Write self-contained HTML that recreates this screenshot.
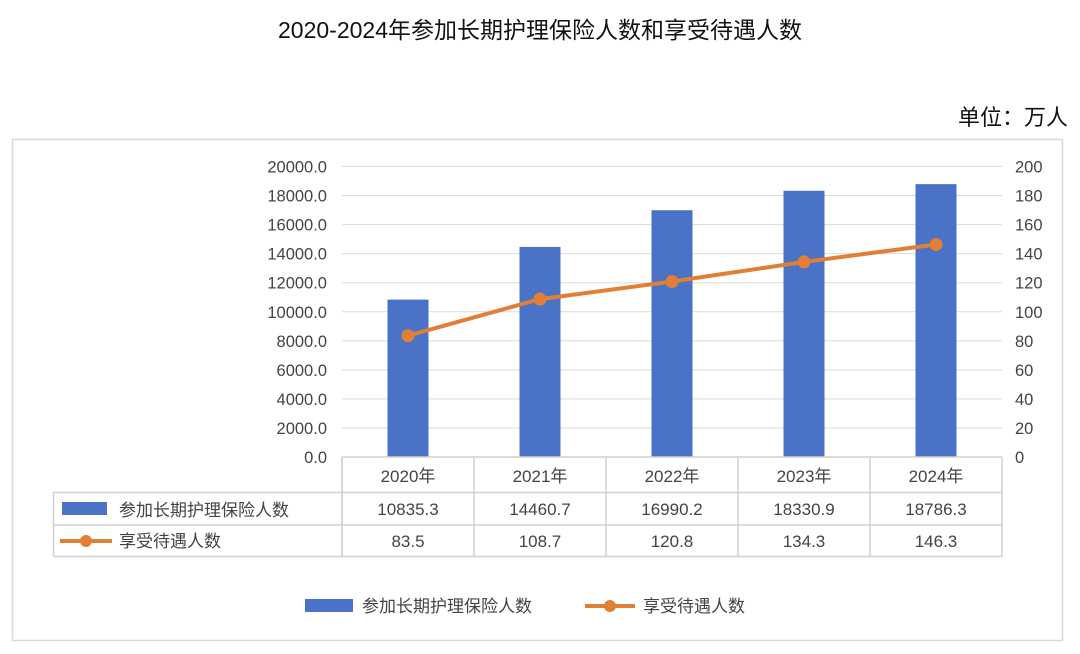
<!DOCTYPE html>
<html><head><meta charset="utf-8"><style>
body{margin:0;background:#fff;width:1080px;height:649px;overflow:hidden;font-family:"Liberation Sans","Noto Sans CJK SC",sans-serif}
</style></head><body>
<svg width="1080" height="649" xmlns="http://www.w3.org/2000/svg" font-family="Liberation Sans, Noto Sans CJK SC, sans-serif">
<text x="540" y="38" text-anchor="middle" font-size="23" fill="#111">2020-2024年参加长期护理保险人数和享受待遇人数</text>
<text x="1068" y="125" text-anchor="end" font-size="22" fill="#111">单位：万人</text>
<rect x="12.5" y="139.5" width="1050" height="501" fill="none" stroke="#d9d9d9" stroke-width="1.5"/>
<g id="grid"></g><g id="bars"></g><g id="line"></g><g id="axes"></g><g id="table"></g>
<g>
<rect x="305" y="599" width="48" height="13" fill="#4a72c6"/>
<text x="362" y="612" font-size="17" fill="#444">参加长期护理保险人数</text>
<line x1="585" y1="606" x2="635" y2="606" stroke="#e07f35" stroke-width="4"/>
<circle cx="610" cy="606" r="6" fill="#e07f35"/>
<text x="643" y="612" font-size="17" fill="#444">享受待遇人数</text>
</g>
</svg>
<script>
const categories=["2020年","2021年","2022年","2023年","2024年"];
const insured=[10835.3,14460.7,16990.2,18330.9,18786.3];
const beneficiaries=[83.5,108.7,120.8,134.3,146.3];
const leftTicks=[0,2000,4000,6000,8000,10000,12000,14000,16000,18000,20000];
const rightTicks=[0,20,40,60,80,100,120,140,160,180,200];
const NS="http://www.w3.org/2000/svg";
const x0=342,x1=1002,yTop=166.5,yBot=457;
const bw=(x1-x0)/categories.length;
const yL=v=>yBot-(v/20000)*(yBot-yTop);
const yR=v=>yBot-(v/200)*(yBot-yTop);
const xC=i=>x0+bw*(i+0.5);
function mk(tag,attrs,parent,text){const e=document.createElementNS(NS,tag);for(const k in attrs)e.setAttribute(k,attrs[k]);if(text!==undefined)e.textContent=text;document.getElementById(parent).appendChild(e);return e;}
leftTicks.forEach((t,i)=>{
 const g=mk('line',{x1:x0,x2:x1,y1:yL(t),y2:yL(t),stroke:'#d9d9d9','stroke-width':1},'grid');
 
 
 const l=mk('text',{x:327,y:yL(t)+6,'text-anchor':'end','font-size':16.5,fill:'#444'},'axes',t.toFixed(1));
 
 
});
rightTicks.forEach(t=>{
 const l=mk('text',{x:1015,y:yR(t)+6,'font-size':16.5,fill:'#444'},'axes',String(t));
 
 
});
insured.forEach((v,i)=>{
 const r=mk('rect',{x:xC(i)-20.5,y:yL(v),width:41,height:yBot-yL(v),fill:'#4a72c6'},'bars');
 
 
});
const pts=beneficiaries.map((v,i)=>xC(i)+','+yR(v)).join(' ');
const pl=mk('polyline',{points:pts,fill:'none',stroke:'#e07f35','stroke-width':4,'stroke-linejoin':'round'},'line');


beneficiaries.forEach((v,i)=>{
 const c=mk('circle',{cx:xC(i),cy:yR(v),r:6.5,fill:'#e07f35'},'line');
 
 
});
// table
const rows=[457,492.5,525,556.5];
const tl=53.5;
const tline=(a,b,c,d)=>{const l=mk('line',{x1:a,y1:b,x2:c,y2:d,stroke:'#d0d0d0','stroke-width':1.5},'table');};
tline(x0,rows[0],x0,rows[3]);
for(let i=0;i<=categories.length;i++)tline(x0+bw*i,rows[0],x0+bw*i,rows[3]);
tline(x0,rows[0],x1,rows[0]);
[1,2,3].forEach(r=>tline(tl,rows[r],x1,rows[r]));
tline(tl,rows[1],tl,rows[3]);
categories.forEach((c,i)=>{
 const t=mk('text',{x:xC(i),y:482,'text-anchor':'middle','font-size':17,fill:'#444'},'table',c);
 
 
 const a=mk('text',{x:xC(i),y:515,'text-anchor':'middle','font-size':17,fill:'#444'},'table',insured[i].toFixed(1));
 
 
 const b=mk('text',{x:xC(i),y:547,'text-anchor':'middle','font-size':17,fill:'#444'},'table',beneficiaries[i].toFixed(1));
 
 
});
const s1=mk('rect',{x:62,y:502,width:45,height:13,fill:'#4a72c6'},'table');


const n1=mk('text',{x:119,y:516,'font-size':17,fill:'#444'},'table','参加长期护理保险人数');


const s2=mk('line',{x1:60,y1:541,x2:112,y2:541,stroke:'#e07f35','stroke-width':4},'table');


const s3=mk('circle',{cx:86,cy:541,r:6,fill:'#e07f35'},'table');


const n2=mk('text',{x:119,y:547,'font-size':17,fill:'#444'},'table','享受待遇人数');


</script>
</body></html>
